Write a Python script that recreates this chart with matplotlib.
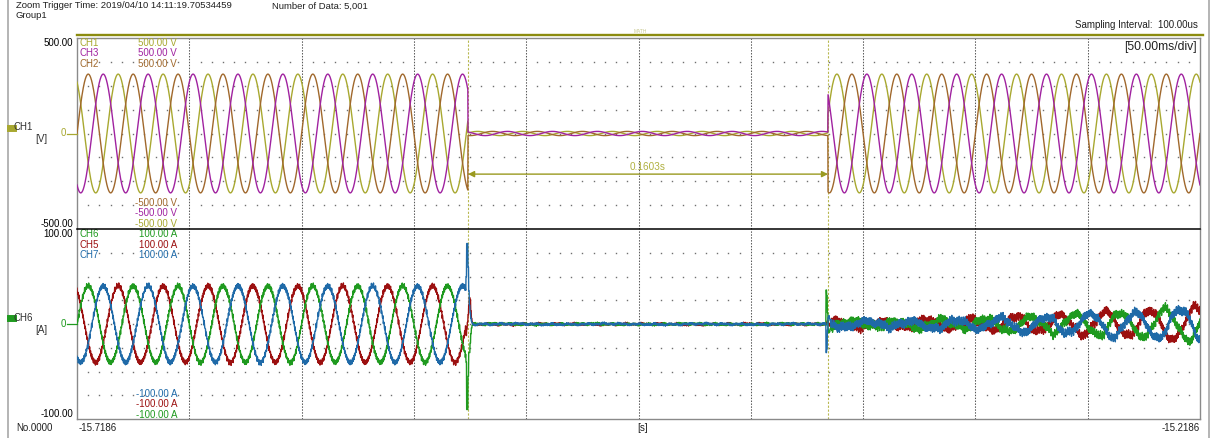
import numpy as np
import matplotlib
matplotlib.use("Agg")
import matplotlib.pyplot as plt
from matplotlib.lines import Line2D

plt.rcParams["font.family"] = ["Liberation Sans", "DejaVu Sans"]

W, H, DPI = 1211, 438, 100

# ---- acquisition ----
t_start, t_end = -15.7186, -15.2186
n_data = 5001
dt = 100e-6
f_line = 50.0
cursor_t = [0.1741, 0.3344]          # seconds after t_start

# ---- voltage channels ----
v_names = ["CH1", "CH3", "CH2"]
v_colors = ["#a8a830", "#a022a0", "#a0682c"]
v_amp = [310.0, 310.0, 310.0]        # V, in service
v_gap_amp = [11.0, 11.0, 11.0]       # V, residual while open
v_phase = [120.0, -120.0, 0.0]       # deg
v_range = 500.0

# ---- current channels ----
i_names = ["CH6", "CH5", "CH7"]
i_colors = ["#1f9a1f", "#9c1010", "#1f6aa8"]
i_amp_pre = [40.0, 40.0, 40.0]       # A
i_phase_pre = [0.0, -240.0, -120.0]  # deg
i_phase_post = [11.0, -229.0, -109.0]
# amplitude of each 20 ms cycle after reclosing (A)
i_amp_post_cycles = [3.0, 3.5, 4.5, 6.0, 8.0, 10.5, 13.0, 15.5, 18.0, 20.5]
i_range = 100.0

# switching transients (A), each value held for 3 samples
spike_open = {
    "CH7": [50, 85, 85, 60, 35, 20, 12, 6, 3, 1, 0],
    "CH6": [-40, -90, -90, -55, -30, -30, -20, -10, -4, -1, 0],
    "CH5": [-12, -5, 2, 10, 20, 28, 26, 14, 6, 2, 0],
}
spike_close = {
    "CH6": [36, 30, 12, -6, -9, -8, -5],
    "CH7": [-30, -26, -6, 7, 9, 6, 4],
    "CH5": [0, 2, 4, 2, 0, -2, 0],
}

t = np.arange(n_data) * dt
x = t_start + t
t1, t2 = cursor_t
i1, i2 = int(round(t1 / dt)), int(round(t2 / dt))
w = 2 * np.pi * f_line


def ripple(k, scale):
    return scale * (1.8 * np.sin(2 * np.pi * 2150 * t + 1.3 * k)
                    + 1.1 * np.sin(2 * np.pi * 3330 * t + 2.1 * k)
                    + 0.8 * np.sin(2 * np.pi * 4470 * t + 0.7 * k))


def wander(k, scale):
    return scale * (np.sin(2 * np.pi * 131 * t + 1.7 * k)
                    + 0.8 * np.sin(2 * np.pi * 307 * t + 0.9 * k)
                    + 0.6 * np.sin(2 * np.pi * 23 * t + 2.5 * k))


volts = []
for a, ag, ph in zip(v_amp, v_gap_amp, v_phase):
    s = np.sin(w * t + np.radians(ph))
    v = np.where((t < t1) | (t >= t2), a * s, ag * s)
    volts.append(v)

cyc = np.clip(((t - t2) / 0.02).astype(int), 0, len(i_amp_post_cycles) - 1)
amp_post = np.array(i_amp_post_cycles)[cyc]
currents = []
for k, name in enumerate(i_names):
    pre = i_amp_pre[k] * np.sin(w * t + np.radians(i_phase_pre[k])) + ripple(k, 1.0)
    gap = ripple(k + 5, 0.35) + wander(k, 0.5)
    post = (amp_post * np.sin(w * t + np.radians(i_phase_post[k]))
            + ripple(k + 2, 1.5) + wander(k + 3, 1.2))
    cur = np.where(t < t1, pre, np.where(t < t2, gap, post))
    sp = np.repeat(spike_open[name], 3)
    s0 = i1 - 9
    cur[s0:s0 + len(sp)] = sp
    sp = np.repeat(spike_close[name], 3)
    s0 = i2 - 9
    cur[s0:s0 + len(sp)] = sp
    currents.append(cur)

fig = plt.figure(figsize=(W / DPI, H / DPI), dpi=DPI)
fig.patch.set_facecolor("white")


def fx(px):
    return px / W


def fy(py):
    return 1 - py / H


L, R = 77, 1200
TOP1, MID, BOT2 = 37.7, 229.3, 419.0
ax1 = fig.add_axes([fx(L), fy(MID), (R - L) / W, (MID - TOP1) / H])
ax2 = fig.add_axes([fx(L), fy(BOT2), (R - L) / W, (BOT2 - MID) / H])

for ax, rng in ((ax1, v_range), (ax2, i_range)):
    ax.set_xlim(t_start, t_end)
    ax.set_ylim(-rng, rng)
    ax.set_xticks([])
    ax.set_yticks([])
    for sp in ax.spines.values():
        sp.set_color("#8a8a8a")
        sp.set_linewidth(1.0)
    # minor dot grid
    xs = [t_start + 0.005 * k for k in range(1, 100) if k % 10]
    for r in range(-3, 4):
        ax.plot(xs, [r * rng / 4] * len(xs), ls="none", marker="s",
                ms=1.0, mew=0, color="#707070", zorder=1)
    # major division lines
    for k in range(1, 10):
        ax.axvline(t_start + 0.05 * k, color="#5a5a5a", lw=0.75,
                   ls=(0, (1.4, 1.4)), zorder=1)
    for ct in cursor_t:
        ax.axvline(t_start + ct, color="#b8b850", lw=0.8,
                   ls=(0, (2, 1.5)), zorder=1)

ax1.spines["bottom"].set_visible(False)
ax2.spines["top"].set_visible(False)

for v, c in zip([volts[0], volts[2], volts[1]], [v_colors[0], v_colors[2], v_colors[1]]):
    ax1.plot(x, v, color=c, lw=1.0, zorder=3)
for cur, c in zip([currents[1], currents[0], currents[2]], [i_colors[1], i_colors[0], i_colors[2]]):
    ax2.plot(x, cur, color=c, lw=1.0, zorder=3)

# cursor measurement
ya = -212
ax1.annotate("", xy=(t_start + t1, ya), xytext=(t_start + t2, ya),
             arrowprops=dict(arrowstyle="<|-|>", color="#9a9a20", lw=1.0,
                             shrinkA=0, shrinkB=0, mutation_scale=9), zorder=4)
ax1.text(t_start + (t1 + t2) / 2, ya + 35, f"{t2 - t1:.4f}s", color="#b0b040",
         ha="center", va="center", fontsize=7.2)

FS = 7.0


def ftext(px, py, s, **kw):
    kw.setdefault("fontsize", FS)
    kw.setdefault("va", "center")
    fig.text(fx(px), fy(py), s, **kw)


# separator between the two panels
fig.add_artist(Line2D([fx(L), fx(R)], [fy(MID), fy(MID)], color="black", lw=1.1, zorder=10))

# header
ftext(16, 6, "Zoom Trigger Time: 2019/04/10 14:11:19.70534459", color="#202020", fontsize=6.8)
ftext(272, 6, "Number of Data: 5,001", color="#202020", fontsize=6.8)
ftext(16, 15.5, "Group1", color="#202020", fontsize=6.8)
ftext(1198, 25, "Sampling Interval:  100.00us", ha="right", color="#202020")
ftext(1197, 47, "[50.00ms/div]", ha="right", color="#202020", fontsize=8.7)
ftext(640, 31.5, "MATH", ha="center", color="#c8c890", fontsize=3.5)
fig.add_artist(Line2D([fx(L), fx(1203)], [fy(35.2), fy(35.2)], color="#8c8c10", lw=1.7))
fig.add_artist(Line2D([fx(7.5), fx(7.5)], [0, 1], color="#a8a8a8", lw=1.2))
fig.add_artist(Line2D([fx(1209), fx(1209)], [0, 1], color="#a8a8a8", lw=1.2))

# left scale labels
ftext(73, 43, "500.00", ha="right")
ftext(73, 224, "-500.00", ha="right")
ftext(73, 234.5, "100.00", ha="right")
ftext(73, 414, "-100.00", ha="right")

zero1 = (TOP1 + MID) / 2
zero2 = (MID + BOT2) / 2
for zy, col, nm, unit in ((zero1, v_colors[0], "CH1", "[V]"), (zero2, i_colors[0], "CH6", "[A]")):
    fig.add_artist(Line2D([fx(10.5), fx(13)], [fy(zy - 6), fy(zy - 6)], color=col, lw=5))
    ftext(14, zy - 6, nm, color="#303030")
    ftext(35, zy + 6, unit, color="#303030")
    ftext(66, zy, "0", ha="right", color=col)
    fig.add_artist(Line2D([fx(67), fx(L)], [fy(zy), fy(zy)], color=col, lw=0.9))

# channel legends inside the plots
for k, (nm, c) in enumerate(zip(v_names, v_colors)):
    ftext(79, 43 + 10.5 * k, nm, color=c)
    ftext(177, 43 + 10.5 * k, f"{v_range:.2f} V", ha="right", color=c)
for k, c in enumerate([v_colors[2], v_colors[1], v_colors[0]]):
    ftext(177, 203 + 10.5 * k, f"{-v_range:.2f} V", ha="right", color=c)
for k, (nm, c) in enumerate(zip(i_names, i_colors)):
    ftext(79, 234.5 + 10.3 * k, nm, color=c)
    ftext(177, 234.5 + 10.3 * k, f"{i_range:.2f} A", ha="right", color=c)
for k, c in enumerate([i_colors[2], i_colors[1], i_colors[0]]):
    ftext(177, 394 + 10.3 * k, f"{-i_range:.2f} A", ha="right", color=c)

# time axis labels
ftext(16, 428, "No.0000", color="#202020")
ftext(79, 428, f"{t_start:.4f}", color="#202020")
ftext(643, 428, "[s]", ha="center", color="#202020")
ftext(1200, 428, f"{t_end:.4f}", ha="right", color="#202020")

fig.savefig("out.png", dpi=DPI, facecolor="white")
